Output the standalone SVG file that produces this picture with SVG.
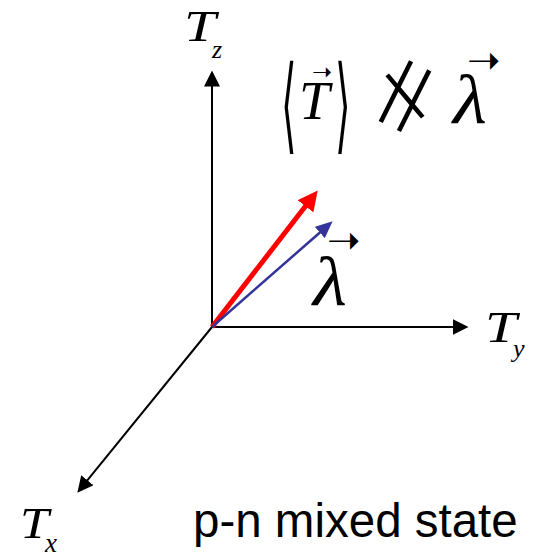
<svg xmlns="http://www.w3.org/2000/svg" width="535" height="558" viewBox="0 0 535 558">
<style>
.m{font-family:"Liberation Serif","Times New Roman",serif;font-style:italic;fill:#000}
.d{font-family:"DejaVu Sans",sans-serif;fill:#000}
.a{font-family:"DejaVu Sans",sans-serif;fill:#000}
.j{font-family:"Noto Sans CJK JP","DejaVu Sans",sans-serif;font-weight:200;fill:#000}
.s{font-family:"Liberation Sans",Arial,sans-serif;fill:#000}
.ax{stroke:#000;stroke-width:2;fill:none}
</style>
<defs>
<marker id="hk" markerUnits="userSpaceOnUse" viewBox="0 -8 16 16" refX="0.5" refY="0" markerWidth="16" markerHeight="16" orient="auto"><path d="M0,-8 L16,0 L0,8 z" fill="#000"/></marker>
<marker id="hr" markerUnits="userSpaceOnUse" viewBox="0 -10 20 20" refX="0.5" refY="0" markerWidth="20" markerHeight="20" orient="auto"><path d="M0,-10 L20,0 L0,10 z" fill="#ff0000"/></marker>
<marker id="hb" markerUnits="userSpaceOnUse" viewBox="0 -7.5 17 15" refX="0.5" refY="0" markerWidth="17" markerHeight="15" orient="auto"><path d="M0,-7.5 L17,0 L0,7.5 z" fill="#333399"/></marker>
</defs>
<g id="connectors">
<line class="ax" x1="212" y1="328" x2="212" y2="86" marker-end="url(#hk)"/>
<line class="ax" x1="211" y1="327" x2="453" y2="327" marker-end="url(#hk)"/>
<line class="ax" x1="212" y1="327" x2="87.1" y2="480.6" marker-end="url(#hk)"/>
<line x1="212" y1="327" x2="305.8" y2="205.8" stroke="#ff0000" stroke-width="5" marker-end="url(#hr)"/>
<line x1="212" y1="327" x2="320.2" y2="232.2" stroke="#333399" stroke-width="2.5" marker-end="url(#hb)"/>
</g>
<g id="label-tz">
<text class="m" x="0" y="0" font-size="44" transform="translate(184,41) scale(1.3,1)">T</text>
<text class="m" x="212" y="58" font-size="26">z</text>
</g>
<g id="label-ty">
<text class="m" x="0" y="0" font-size="44" transform="translate(485,342) scale(1.3,1)">T</text>
<text class="m" x="513" y="357" font-size="26">y</text>
</g>
<g id="label-tx">
<text class="m" x="0" y="0" font-size="45" transform="translate(20,538) scale(1.15,1)">T</text>
<text class="m" x="45" y="552" font-size="27">x</text>
</g>
<g id="formula">
<text class="d" x="0" y="0" font-size="40" transform="translate(281,140) scale(1,2.62)">⟨</text>
<text class="m" x="299" y="119" font-size="55">T</text>
<text class="a" x="312" y="80" font-size="24">➝</text>
<text class="d" x="0" y="0" font-size="40" transform="translate(335,140) scale(1,2.62)">⟩</text>
<text class="j" x="359" y="131" font-size="92">∦</text>
<text class="m" x="0" y="0" font-size="70" transform="translate(453,123) scale(1.12,1)">λ</text>
<text class="a" x="467" y="74" font-size="40">➝</text>
</g>
<g id="label-lambda">
<text class="m" x="0" y="0" font-size="70" transform="translate(313,305) scale(1.12,1)">λ</text>
<text class="a" x="327" y="254" font-size="40">➝</text>
</g>
<g id="caption">
<text class="s" x="193" y="537" font-size="47.5">p-n mixed state</text>
</g>
</svg>
